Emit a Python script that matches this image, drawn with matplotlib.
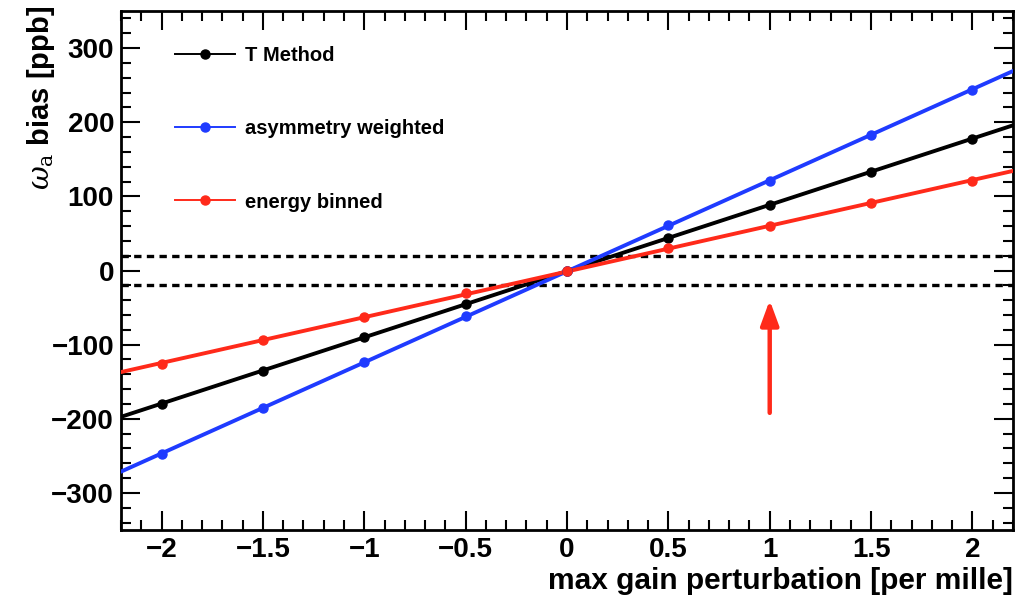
import numpy as np
import matplotlib
matplotlib.use('Agg')
import matplotlib.pyplot as plt
from matplotlib.ticker import MultipleLocator

plt.rcParams['font.family'] = ['Liberation Sans', 'DejaVu Sans']
plt.rcParams['mathtext.fontset'] = 'dejavuserif'

# --- data ---
gain = [-2.0, -1.5, -1.0, -0.5, 0.0, 0.5, 1.0, 1.5, 2.0]
t_method = [-180, -135, -90, -45, 0, 44, 88, 133, 178]
asym_weighted = [-247, -186, -124, -62, 0, 61, 121, 183, 244]
energy_binned = [-126, -94, -63, -31, 0, 30, 60, 91, 121]

series = [
    ('T Method', t_method, 'black'),
    ('asymmetry weighted', asym_weighted, '#1f3bff'),
    ('energy binned', energy_binned, '#ff2a1a'),
]

band = 20          # dashed lines at +/- band
arrow_x = 1.0
arrow_from, arrow_to = -192, -40

fig = plt.figure(figsize=(10.28, 5.99), dpi=100)
ax = fig.add_axes([0.1177, 0.1152, 0.8677, 0.8664])

xfit = np.array([-2.2, 2.2])
handles = []
for name, vals, col in series:
    # straight-line fit drawn across the full axis range
    p = np.polyfit(gain, vals, 1)
    ax.plot(xfit, np.polyval(p, xfit), color=col, lw=2.8, zorder=3)
    ax.plot(gain, vals, 'o', color=col, ms=6.5, zorder=4)
    h, = ax.plot([], [], '-o', color=col, lw=1.4, ms=6.5)
    handles.append(h)

ax.axhline(band, color='black', ls=(0, (2.2, 1.6)), lw=2.4)
ax.axhline(-band, color='black', ls=(0, (2.2, 1.6)), lw=2.4)

ax.annotate('', xy=(arrow_x, arrow_to), xytext=(arrow_x, arrow_from),
            arrowprops=dict(arrowstyle='-|>,head_width=0.55,head_length=1.5',
                            color='#ff2a1a', lw=3.2, shrinkA=0, shrinkB=0))

ax.set_xlim(-2.2, 2.2)
ax.set_ylim(-350, 350)
ax.xaxis.set_minor_locator(MultipleLocator(0.1))
ax.yaxis.set_minor_locator(MultipleLocator(20))
ax.tick_params(which='both', direction='in', top=True, right=True, width=1.5)
ax.tick_params(which='major', length=14, pad=5)
ax.tick_params(which='minor', length=7)
for s in ax.spines.values():
    s.set_linewidth(2.0)

ax.set_xticks([-2, -1.5, -1, -0.5, 0, 0.5, 1, 1.5, 2])
ax.set_xticklabels(['\u22122', '\u22121.5', '\u22121', '\u22120.5', '0', '0.5', '1', '1.5', '2'],
                   fontsize=20, fontweight='bold')
ax.set_yticks([-300, -200, -100, 0, 100, 200, 300])
ax.set_yticklabels(['\u2212300', '\u2212200', '\u2212100', '0', '100', '200', '300'],
                   fontsize=20, fontweight='bold')

fig.text(0.985, 0.006, 'max gain perturbation [per mille]', ha='right', va='bottom',
         fontsize=21.5, fontweight='bold')
fig.text(0.04, 0.99, r'$\omega_{\mathrm{a}}$ bias [ppb]', ha='center', va='top', rotation=90,
         fontsize=21, fontweight='bold')

leg = ax.legend(handles, [s[0] for s in series], loc='upper left',
                bbox_to_anchor=(0.04, 0.968), frameon=False, fontsize=14.5,
                handlelength=3.0, labelspacing=2.7, handletextpad=0.5)
for t in leg.get_texts():
    t.set_fontweight('bold')

fig.savefig('out.png', dpi=100)
